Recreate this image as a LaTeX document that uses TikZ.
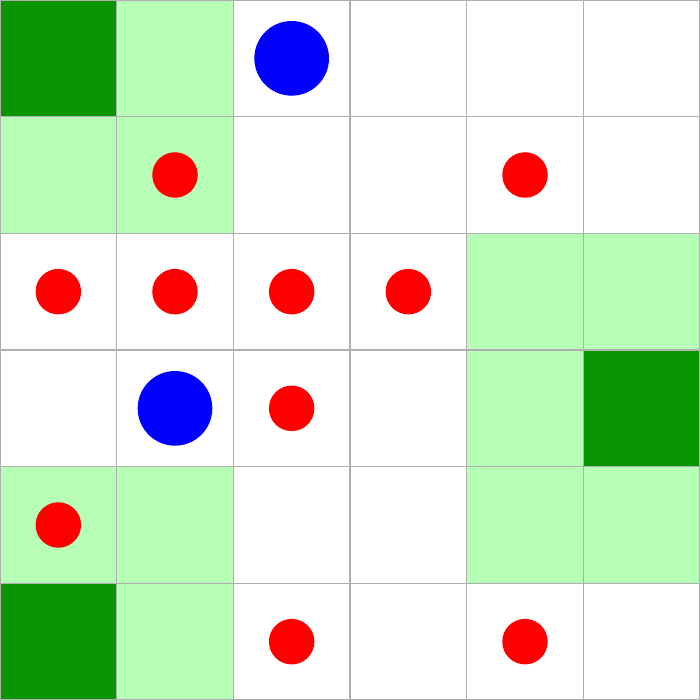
\documentclass[tikz,border=0pt]{standalone}
\usepackage{xcolor}
\usepackage{tikz}

\definecolor{wallgreen}{RGB}{10,150,0}
\definecolor{lightgreen}{RGB}{183,255,183}
\definecolor{gridgray}{RGB}{175,175,175}

\begin{document}
\begin{tikzpicture}[scale=1]
\useasboundingbox (0,0) rectangle (6,6);

% Light green cells (col, row from top)
\foreach \c/\r in {1/0, 0/1, 1/1, 4/2, 5/2, 4/3, 0/4, 1/4, 4/4, 5/4, 1/5} {
    \fill[lightgreen] (\c, 5-\r) rectangle ++(1,1);
}

% Dark green cells
\foreach \c/\r in {0/0, 5/3, 0/5} {
    \fill[wallgreen] (\c, 5-\r) rectangle ++(1,1);
}

% Grid
\foreach \x in {0,1,...,6} {
    \draw[gridgray, line width=0.3pt] (\x, 0) -- (\x, 6);
    \draw[gridgray, line width=0.3pt] (0, \x) -- (6, \x);
}

% Blue discs
\foreach \c/\r in {2/0, 1/3} {
    \fill[blue] (\c+0.5, 5.5-\r) circle (0.32);
}

% Red dots
\foreach \c/\r in {1/1, 4/1, 0/2, 1/2, 2/2, 3/2, 2/3, 0/4, 2/5, 4/5} {
    \fill[red] (\c+0.5, 5.5-\r) circle (0.195);
}

\end{tikzpicture}
\end{document}
